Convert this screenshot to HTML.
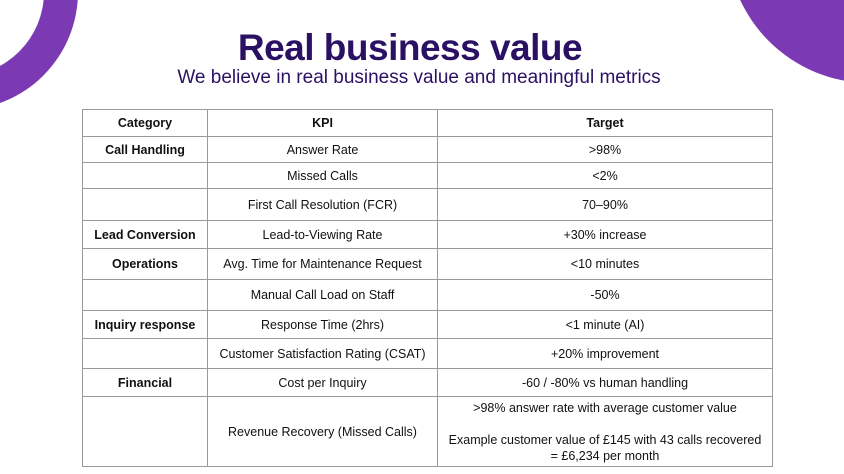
<!DOCTYPE html>
<html><head><style>
body{margin:0;width:844px;height:474px;overflow:hidden;background:#fff;position:relative;font-family:"Liberation Sans",sans-serif;}
.c{position:absolute;border-radius:50%;}
h1{position:absolute;top:27px;left:0;width:820px;text-align:center;margin:0;font-size:37px;color:#2b1164;font-weight:bold;letter-spacing:-0.5px;}
.sub{position:absolute;top:67px;left:0;width:838px;text-align:center;font-size:19px;color:#2b1164;}
table{position:absolute;left:82px;top:109px;width:691px;border-collapse:collapse;font-size:12.5px;color:#111;}
td{border:1.5px solid #9a9a9a;text-align:center;padding:0;}
td.b{font-weight:bold;}
</style></head><body>
<div class="c" style="left:-158px;top:-126px;width:236px;height:236px;background:#7b3ab3"></div>
<div class="c" style="left:-124px;top:-92px;width:168px;height:168px;background:#fff"></div>
<div class="c" style="left:727px;top:-203px;width:286px;height:286px;background:#7b3ab3"></div>
<h1>Real business value</h1>
<div class="sub">We believe in real business value and meaningful metrics</div>
<table>
<colgroup><col style="width:125px"><col style="width:230px"><col></colgroup>
<tr style="height:27px"><td class="b">Category</td><td class="b">KPI</td><td class="b">Target</td></tr>
<tr style="height:26px"><td class="b">Call Handling</td><td>Answer Rate</td><td>&gt;98%</td></tr>
<tr style="height:26px"><td></td><td>Missed Calls</td><td>&lt;2%</td></tr>
<tr style="height:32px"><td></td><td>First Call Resolution (FCR)</td><td>70–90%</td></tr>
<tr style="height:28px"><td class="b">Lead Conversion</td><td>Lead-to-Viewing Rate</td><td>+30% increase</td></tr>
<tr style="height:31px"><td class="b">Operations</td><td>Avg. Time for Maintenance Request</td><td>&lt;10 minutes</td></tr>
<tr style="height:31px"><td></td><td>Manual Call Load on Staff</td><td>-50%</td></tr>
<tr style="height:28px"><td class="b">Inquiry response</td><td>Response Time (2hrs)</td><td>&lt;1 minute (AI)</td></tr>
<tr style="height:30px"><td></td><td>Customer Satisfaction Rating (CSAT)</td><td>+20% improvement</td></tr>
<tr style="height:28px"><td class="b">Financial</td><td>Cost per Inquiry</td><td>-60 / -80% vs human handling</td></tr>
<tr style="height:70px"><td></td><td>Revenue Recovery (Missed Calls)</td><td style="line-height:16px">&gt;98% answer rate with average customer value<br><br>Example customer value of £145 with 43 calls recovered<br>= £6,234 per month</td></tr>
</table>
</body></html>
